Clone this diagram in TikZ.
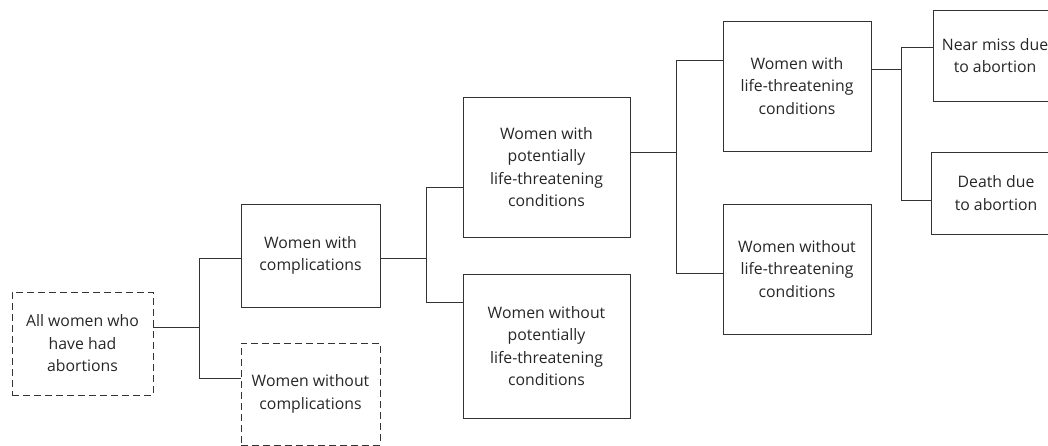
\documentclass[tikz,border=0pt]{standalone}
\usepackage{fontspec}
\setmainfont{Open Sans}
\definecolor{linec}{HTML}{333333}
\definecolor{textc}{HTML}{262626}
\tikzset{
  boxnode/.style={draw=linec, line width=0.95pt, inner sep=0pt, align=center, text=textc,
    font=\fontsize{15.8}{22.5}\selectfont},
  dashbox/.style={boxnode, dash pattern=on 7pt off 4pt},
  conn/.style={draw=linec, line width=0.95pt}
}
\begin{document}
\begin{tikzpicture}[x=1pt, y=-1pt]
\useasboundingbox (0,0) rectangle (1048,445);
% boxes
\node[dashbox, minimum width=141pt, minimum height=103pt] (A) at (82.5,343.5) {All women who\\have had\\abortions};
\node[boxnode, minimum width=139pt, minimum height=103pt] (B) at (310.5,255.5) {Women with\\complications};
\node[dashbox, minimum width=139pt, minimum height=102pt] (C) at (310.5,394) {Women without\\complications};
\node[boxnode, minimum width=167pt, minimum height=140pt] (D) at (546.5,167) {Women with\\potentially\\life-threatening\\conditions};
\node[boxnode, minimum width=167pt, minimum height=144pt] (E) at (546.5,346) {Women without\\potentially\\life-threatening\\conditions};
\node[boxnode, minimum width=148pt, minimum height=130pt] (F) at (797,86) {Women with\\life-threatening\\conditions};
\node[boxnode, minimum width=148pt, minimum height=130pt] (G) at (797,269) {Women without\\life-threatening\\conditions};
\node[boxnode, minimum width=124pt, minimum height=91pt] (H) at (995,55.5) {Near miss due\\to abortion};
\node[boxnode, minimum width=130pt, minimum height=82pt] (I) at (996,193) {Death due\\to abortion};
% junctions
\coordinate (j1) at (199,327);
\coordinate (j1t) at (199,258);
\coordinate (j1b) at (199,378);
\coordinate (j2) at (426,258);
\coordinate (j2t) at (426,187);
\coordinate (j2b) at (426,302);
\coordinate (j3) at (676,152);
\coordinate (j3t) at (676,60);
\coordinate (j3b) at (676,273);
\coordinate (j4) at (901,69);
\coordinate (j4t) at (901,47);
\coordinate (j4b) at (901,200);
% connectors
\draw[conn] (A.east |- j1) -- (j1);
\draw[conn] (B.west |- j1t) -- (j1t) -- (j1b) -- (C.west |- j1b);
\draw[conn] (B.east |- j2) -- (j2);
\draw[conn] (D.west |- j2t) -- (j2t) -- (j2b) -- (E.west |- j2b);
\draw[conn] (D.east |- j3) -- (j3);
\draw[conn] (F.west |- j3t) -- (j3t) -- (j3b) -- (G.west |- j3b);
\draw[conn] (F.east |- j4) -- (j4);
\draw[conn] (H.west |- j4t) -- (j4t) -- (j4b) -- (I.west |- j4b);
\end{tikzpicture}
\end{document}
